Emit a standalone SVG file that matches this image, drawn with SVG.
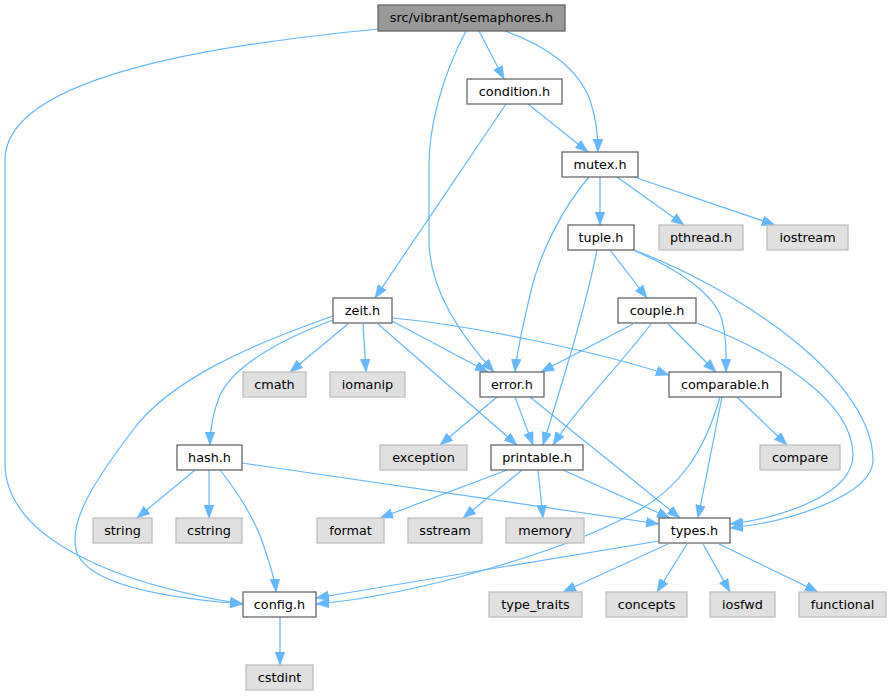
<svg xmlns="http://www.w3.org/2000/svg" width="891" height="696" viewBox="0 0 891 696">
<style>
.n rect{fill:#ffffff;stroke:#666666;stroke-width:1.3}
.x rect{fill:#e0e0e0;stroke:#bfbfbf;stroke-width:1.3}
.r rect{fill:#999999;stroke:#666666;stroke-width:1.3}
text{font-family:"DejaVu Sans",sans-serif;font-size:12.8px;fill:#000000;text-anchor:middle}
.e path{fill:none;stroke:#63b8ff;stroke-width:1.2;marker-end:url(#ah)}
</style>
<defs>
<marker id="ah" viewBox="0 0 13 10" refX="13" refY="5" markerWidth="13" markerHeight="10" markerUnits="userSpaceOnUse" orient="auto">
<path d="M0,0 L13,5 L0,10 z" fill="#63b8ff" stroke="#63b8ff" stroke-width="0.5"/>
</marker>
</defs>
<rect width="891" height="696" fill="#ffffff"/>
<g class="e" id="edges">
<path d="M479,31 L504,79"/>
<path d="M505,31 C545,45 578,68 590,100 C596,118 598,135 598,152"/>
<path d="M466,31 C440,80 429,130 429,165 L429,240 C429,290 460,335 494,372"/>
<path d="M378,29 C250,42 5,70 5,160 L5,463 C5,540 120,585 243,604"/>
<path d="M506,104 L375,298"/>
<path d="M528,104 L588,152"/>
<path d="M600,177 L600,225"/>
<path d="M617,177 L684,225"/>
<path d="M634,177 L775,225"/>
<path d="M589,177 C565,205 540,250 530,295 C522,330 517,350 515,372"/>
<path d="M610,250 L647,298"/>
<path d="M597,250 C585,310 560,390 543,445"/>
<path d="M635,251 C680,270 715,295 722,320 C727,340 726,355 726,372"/>
<path d="M634,250 C740,290 873,380 873,460 C873,495 790,522 730,528"/>
<path d="M633,324 L541,372"/>
<path d="M651,324 C620,365 575,410 553,445"/>
<path d="M668,324 L716,372"/>
<path d="M697,323 C770,350 853,400 853,455 C853,495 780,518 730,524"/>
<path d="M333,320 C280,340 235,365 220,395 C212,415 210,430 210,445"/>
<path d="M333,316 C250,345 170,380 133,430 C95,480 65,525 78,555 C95,590 190,600 243,604"/>
<path d="M348,324 L290,372"/>
<path d="M363,324 L366,372"/>
<path d="M392,321 L488,372"/>
<path d="M378,324 L517,445"/>
<path d="M392,318 C470,325 600,352 669,375"/>
<path d="M722,397 L698,518"/>
<path d="M737,397 L787,445"/>
<path d="M720,397 C705,450 680,490 630,515 C570,548 420,595 316,604"/>
<path d="M497,397 L440,445"/>
<path d="M515,397 L533,445"/>
<path d="M530,397 L680,518"/>
<path d="M507,470 L380,518"/>
<path d="M522,470 L463,518"/>
<path d="M538,470 L543,518"/>
<path d="M563,470 L670,518"/>
<path d="M195,470 L137,518"/>
<path d="M209,470 L209,518"/>
<path d="M220,470 C240,495 258,525 265,550 C272,570 275,580 276,592"/>
<path d="M242,463 L659,524"/>
<path d="M659,541 L316,598"/>
<path d="M668,544 L563,592"/>
<path d="M687,544 L657,592"/>
<path d="M703,544 L730,592"/>
<path d="M719,544 L818,592"/>
<path d="M280,617 L280,665"/>
</g>
<g id="semaphores" class="r"><rect x="378" y="5" width="187" height="26"/><text x="471.5" y="21.5">src/vibrant/semaphores.h</text></g>
<g id="condition" class="n"><rect x="467" y="79" width="95" height="25"/><text x="514.5" y="95.5">condition.h</text></g>
<g id="mutex" class="n"><rect x="562" y="152" width="76" height="25"/><text x="600" y="168.5">mutex.h</text></g>
<g id="tuple" class="n"><rect x="568" y="225" width="66" height="25"/><text x="601" y="241.5">tuple.h</text></g>
<g id="pthread" class="x"><rect x="659" y="225" width="84" height="25"/><text x="701" y="241.5">pthread.h</text></g>
<g id="iostream" class="x"><rect x="767" y="225" width="81" height="25"/><text x="807.5" y="241.5">iostream</text></g>
<g id="zeit" class="n"><rect x="333" y="298" width="59" height="25"/><text x="362.5" y="314.5">zeit.h</text></g>
<g id="couple" class="n"><rect x="618" y="298" width="78" height="25"/><text x="657" y="314.5">couple.h</text></g>
<g id="cmath" class="x"><rect x="243" y="372" width="63" height="25"/><text x="274.5" y="388.5">cmath</text></g>
<g id="iomanip" class="x"><rect x="330" y="372" width="75" height="25"/><text x="367.5" y="388.5">iomanip</text></g>
<g id="error" class="n"><rect x="480" y="372" width="64" height="25"/><text x="512" y="388.5">error.h</text></g>
<g id="comparable" class="n"><rect x="669" y="372" width="112" height="25"/><text x="725" y="388.5">comparable.h</text></g>
<g id="hash" class="n"><rect x="177" y="445" width="65" height="25"/><text x="209.5" y="461.5">hash.h</text></g>
<g id="exception" class="x"><rect x="380" y="445" width="87" height="25"/><text x="423.5" y="461.5">exception</text></g>
<g id="printable" class="n"><rect x="491" y="445" width="92" height="25"/><text x="537" y="461.5">printable.h</text></g>
<g id="compare" class="x"><rect x="760" y="445" width="80" height="25"/><text x="800" y="461.5">compare</text></g>
<g id="string" class="x"><rect x="93" y="518" width="59" height="25"/><text x="122.5" y="534.5">string</text></g>
<g id="cstring" class="x"><rect x="176" y="518" width="66" height="25"/><text x="209" y="534.5">cstring</text></g>
<g id="format" class="x"><rect x="317" y="518" width="67" height="25"/><text x="350.5" y="534.5">format</text></g>
<g id="sstream" class="x"><rect x="408" y="518" width="74" height="25"/><text x="445" y="534.5">sstream</text></g>
<g id="memory" class="x"><rect x="506" y="518" width="78" height="25"/><text x="545" y="534.5">memory</text></g>
<g id="types" class="n"><rect x="659" y="518" width="71" height="25"/><text x="694.5" y="534.5">types.h</text></g>
<g id="config" class="n"><rect x="243" y="592" width="73" height="25"/><text x="279.5" y="608.5">config.h</text></g>
<g id="type_traits" class="x"><rect x="489" y="592" width="93" height="25"/><text x="535.5" y="608.5">type_traits</text></g>
<g id="concepts" class="x"><rect x="606" y="592" width="81" height="25"/><text x="646.5" y="608.5">concepts</text></g>
<g id="iosfwd" class="x"><rect x="710" y="592" width="65" height="25"/><text x="742.5" y="608.5">iosfwd</text></g>
<g id="functional" class="x"><rect x="799" y="592" width="87" height="25"/><text x="842.5" y="608.5">functional</text></g>
<g id="cstdint" class="x"><rect x="246" y="665" width="67" height="25"/><text x="279.5" y="681.5">cstdint</text></g>
</svg>
